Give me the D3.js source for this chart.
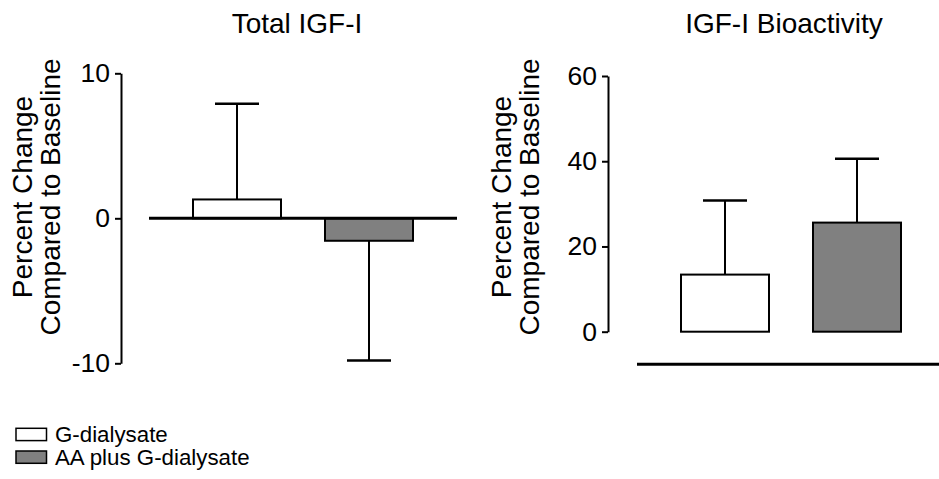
<!DOCTYPE html>
<html>
<head>
<meta charset="utf-8">
<script src="https://cdn.jsdelivr.net/npm/d3@7"></script>
<style>
    body { margin: 0; background: #ffffff; }
    text { font-family: "Liberation Sans", Arial, sans-serif; fill: #000000; }
</style>
</head>
<body>
<div id="content_svg"></div>
<script>
// Datos
const grupos = ["G-dialysate", "AA plus G-dialysate"];
const coloresGrupo = ["#ffffff", "#808080"];

const totalMedia = [1.3, -1.55];
const totalError = [6.6, 8.25];
const totalTicks = [-10, 0, 10];

const bioMedia = [13.4, 25.6];
const bioError = [17.4, 15.0];
const bioTicks = [0, 20, 40, 60];

const titulos = ["Total IGF-I", "IGF-I Bioactivity"];
const etiquetaY = ["Percent Change", "Compared to Baseline"];

var LienzoWidth = 939;
var LienzoHeigh = 479;

var svg = d3.select("#content_svg")
    .append("svg")
    .attr("width", LienzoWidth)
    .attr("height", LienzoHeigh);

function dibujarPanel(p) {
    var g = svg.append("g");

    var x = d3.scaleBand()
        .domain(grupos)
        .range([p.x0, p.x1])
        .paddingInner(1 / 3)
        .paddingOuter(1 / 3);

    var y = d3.scaleLinear()
        .domain(p.dominio)
        .range(p.rango);

    // Eje Y
    var ejeY = g.append("g")
        .attr("transform", "translate(" + p.ejeX + ",0)")
        .call(d3.axisLeft(y)
            .tickValues(p.ticks)
            .tickSize(6)
            .tickSizeOuter(0)
            .tickPadding(5)
            .tickFormat(d => String(d)));
    ejeY.select(".domain").attr("stroke-width", 2);
    ejeY.selectAll(".tick line").attr("stroke-width", 2);
    ejeY.selectAll(".tick text")
        .attr("font-size", 26.5)
        .attr("font-family", "Liberation Sans, Arial, sans-serif");

    // Barras de error (debajo de las barras)
    var datos = grupos.map((d, i) => ({ grupo: d, media: p.media[i], err: p.error[i], color: coloresGrupo[i] }));

    g.selectAll(".stem")
        .data(datos)
        .enter()
        .append("line")
        .attr("x1", d => x(d.grupo) + x.bandwidth() / 2)
        .attr("x2", d => x(d.grupo) + x.bandwidth() / 2)
        .attr("y1", d => y(d.media))
        .attr("y2", d => y(d.media + Math.sign(d.media) * d.err))
        .attr("stroke", "#000")
        .attr("stroke-width", 2);

    g.selectAll(".cap")
        .data(datos)
        .enter()
        .append("line")
        .attr("x1", d => x(d.grupo) + x.bandwidth() / 4)
        .attr("x2", d => x(d.grupo) + x.bandwidth() * 3 / 4)
        .attr("y1", d => y(d.media + Math.sign(d.media) * d.err))
        .attr("y2", d => y(d.media + Math.sign(d.media) * d.err))
        .attr("stroke", "#000")
        .attr("stroke-width", 2.5);

    // Barras
    g.selectAll(".bar")
        .data(datos)
        .enter()
        .append("rect")
        .attr("x", d => x(d.grupo))
        .attr("y", d => y(Math.max(0, d.media)))
        .attr("width", x.bandwidth())
        .attr("height", d => Math.abs(y(d.media) - y(0)))
        .attr("fill", d => d.color)
        .attr("stroke", "#000")
        .attr("stroke-width", 2);

    // Linea base del eje X
    g.append("line")
        .attr("x1", p.x0)
        .attr("x2", p.x1)
        .attr("y1", p.lineaBase)
        .attr("y2", p.lineaBase)
        .attr("stroke", "#000")
        .attr("stroke-width", 3);

    // Titulo
    g.append("text")
        .attr("x", p.tituloX)
        .attr("y", 33)
        .attr("text-anchor", "middle")
        .attr("font-size", 28)
        .text(p.titulo);

    // Etiqueta Y en dos lineas
    etiquetaY.forEach((t, i) => {
        g.append("text")
            .attr("transform", "translate(" + (p.etiquetaX + i * 28) + "," + 197 + ") rotate(-90)")
            .attr("text-anchor", "middle")
            .attr("font-size", 28)
            .text(t);
    });
}

var y0 = d3.scaleLinear().domain([-10, 10]).range([363.3, 73.3]);

dibujarPanel({
    titulo: titulos[0],
    media: totalMedia,
    error: totalError,
    ticks: totalTicks,
    dominio: [-10, 10],
    rango: [363.3, 73.3],
    ejeX: 121,
    x0: 149,
    x1: 457,
    lineaBase: y0(0),
    tituloX: 297,
    etiquetaX: 31.5
});

dibujarPanel({
    titulo: titulos[1],
    media: bioMedia,
    error: bioError,
    ticks: bioTicks,
    dominio: [0, 60],
    rango: [331.7, 76],
    ejeX: 608,
    x0: 637,
    x1: 945,
    lineaBase: 364.3,
    tituloX: 784,
    etiquetaX: 511
});

// Leyenda
var leyenda = svg.append("g");
grupos.forEach((d, i) => {
    leyenda.append("rect")
        .attr("x", 16)
        .attr("y", 428.3 + i * 22.7)
        .attr("width", 30.5)
        .attr("height", 12.3)
        .attr("fill", coloresGrupo[i])
        .attr("stroke", "#000")
        .attr("stroke-width", 1.5);
    leyenda.append("text")
        .attr("x", 55)
        .attr("y", 441.7 + i * 23.3)
        .attr("font-size", 22.3)
        .text(d);
});
</script>
</body>
</html>
